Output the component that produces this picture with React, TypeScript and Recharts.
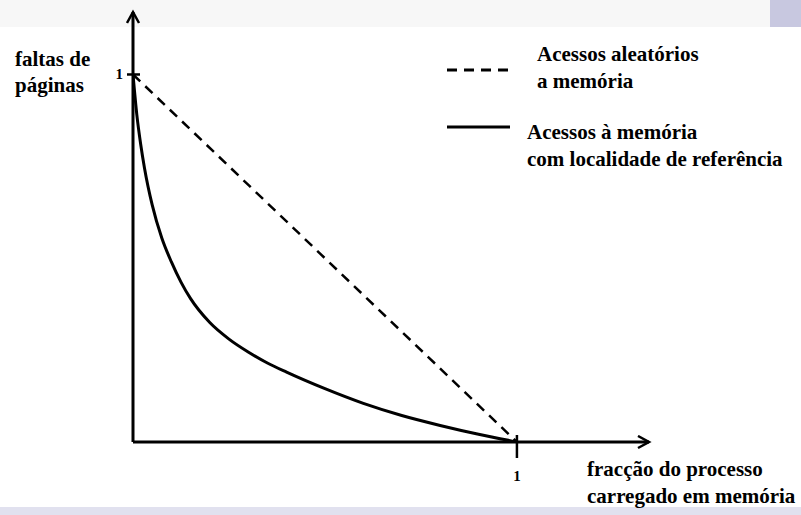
import React from "react";
import { LineChart, Line, XAxis, YAxis, Legend } from "recharts";

// fraction of the process loaded in memory -> page faults (normalised)
const fraction = [0, 0.01, 0.02, 0.03, 0.05, 0.075, 0.1, 0.125, 0.15, 0.2, 0.25, 0.3, 0.35, 0.4, 0.5, 0.6, 0.7, 0.8, 0.9, 1];
const localityFaults = [1, 0.89, 0.81, 0.745, 0.645, 0.555, 0.49, 0.435, 0.39, 0.325, 0.28, 0.245, 0.215, 0.19, 0.145, 0.105, 0.072, 0.045, 0.021, 0];
const randomFraction = [0, 1];
const randomFaults = [1, 0];

const xTicks = [1];
const yTicks = [1];

const yAxisTitle = ["faltas de", "páginas"];
const xAxisTitle = ["fracção do processo", "carregado em memória"];
const legendRandom = ["Acessos aleatórios", "a memória"];
const legendLocality = ["Acessos à memória", "com localidade de referência"];

const localityData = fraction.map((x, i) => ({ x, y: localityFaults[i] }));
const randomData = randomFraction.map((x, i) => ({ x, y: randomFaults[i] }));

const FONT = "Liberation Serif, DejaVu Serif, serif";

const XTick = (props: any) => {
  const { x, y, payload } = props;
  return (
    <g>
      <line x1={x} x2={x} y1={y - 7} y2={y + 16} stroke="#000" strokeWidth={2.5} />
      <text x={x} y={y + 39} textAnchor="middle" fontFamily={FONT} fontWeight="bold" fontSize={15} fill="#000">
        {payload.value}
      </text>
    </g>
  );
};

const YTick = (props: any) => {
  const { x, y, payload } = props;
  return (
    <g>
      <line x1={x - 6} x2={x + 7} y1={y} y2={y} stroke="#000" strokeWidth={2.5} />
      <text x={x - 10} y={y + 5} textAnchor="end" fontFamily={FONT} fontWeight="bold" fontSize={15} fill="#000">
        {payload.value}
      </text>
    </g>
  );
};

const LegendBox = () => (
  <svg width={361} height={150}>
    <line x1={7} x2={70} y1={35} y2={35} stroke="#000" strokeWidth={3} strokeDasharray="10 7" />
    <text x={97} y={26} fontFamily={FONT} fontWeight="bold" fontSize={21} fill="#000">{legendRandom[0]}</text>
    <text x={97} y={53} fontFamily={FONT} fontWeight="bold" fontSize={21} fill="#000">{legendRandom[1]}</text>
    <line x1={7} x2={70} y1={92} y2={92} stroke="#000" strokeWidth={3} />
    <text x={87} y={104} fontFamily={FONT} fontWeight="bold" fontSize={21} fill="#000">{legendLocality[0]}</text>
    <text x={87} y={131} fontFamily={FONT} fontWeight="bold" fontSize={21} fill="#000">{legendLocality[1]}</text>
  </svg>
);

export default function App() {
  return (
    <div style={{ position: "absolute", left: 0, top: 0, width: 801, height: 515, background: "#fff", overflow: "hidden", fontFamily: FONT }}>
      <div style={{ position: "absolute", left: 0, top: 0, width: 801, height: 27, background: "#f7f7f7" }} />
      <div style={{ position: "absolute", left: 770, top: 0, width: 31, height: 27, background: "#c8c8e0" }} />
      <div style={{ position: "absolute", left: 0, top: 507, width: 801, height: 8, background: "#e1e1ef" }} />

      <svg width={0} height={0} style={{ position: "absolute" }}>
        <defs>
          <marker id="axisArrow" markerUnits="userSpaceOnUse" markerWidth={16} markerHeight={16} refX={12} refY={7} orient="auto-start-reverse">
            <path d="M1,1 L12,7 L1,13" fill="none" stroke="#000" strokeWidth={2.5} />
          </marker>
        </defs>
      </svg>

      <div style={{ position: "absolute", left: 0, top: 0 }}>
        <LineChart width={801} height={515} margin={{ top: 12, right: 152, bottom: 72, left: 132 }}>
          <XAxis
            type="number"
            dataKey="x"
            domain={[0, 1.344]}
            ticks={xTicks}
            height={1}
            tickSize={0}
            tickMargin={0}
            tickLine={false}
            tick={<XTick />}
            allowDataOverflow
            axisLine={{ stroke: "#000", strokeWidth: 3, markerEnd: "url(#axisArrow)" }}
          />
          <YAxis
            type="number"
            dataKey="y"
            domain={[0, 1.17]}
            ticks={yTicks}
            width={1}
            tickSize={0}
            tickMargin={0}
            tickLine={false}
            tick={<YTick />}
            allowDataOverflow
            axisLine={{ stroke: "#000", strokeWidth: 3, markerStart: "url(#axisArrow)" }}
          />
          <Legend
            layout="horizontal"
            verticalAlign="middle"
            align="center"
            content={() => <LegendBox />}
            wrapperStyle={{ left: 440, top: 35, width: 361, height: 150 }}
          />
          <Line
            data={randomData}
            dataKey="y"
            type="linear"
            stroke="#000"
            strokeWidth={2.5}
            strokeDasharray="10 7"
            dot={false}
            activeDot={false}
            isAnimationActive={false}
          />
          <Line
            data={localityData}
            dataKey="y"
            type="monotone"
            stroke="#000"
            strokeWidth={3}
            dot={false}
            activeDot={false}
            isAnimationActive={false}
          />
        </LineChart>
      </div>

      <svg width={801} height={515} style={{ position: "absolute", left: 0, top: 0, pointerEvents: "none" }}>
        <text x={15} y={66} fontFamily={FONT} fontWeight="bold" fontSize={21} fill="#000">{yAxisTitle[0]}</text>
        <text x={15} y={92} fontFamily={FONT} fontWeight="bold" fontSize={21} fill="#000">{yAxisTitle[1]}</text>
        <text x={587} y={476} fontFamily={FONT} fontWeight="bold" fontSize={21} fill="#000">{xAxisTitle[0]}</text>
        <text x={587} y={503} fontFamily={FONT} fontWeight="bold" fontSize={21} fill="#000">{xAxisTitle[1]}</text>
      </svg>
    </div>
  );
}
